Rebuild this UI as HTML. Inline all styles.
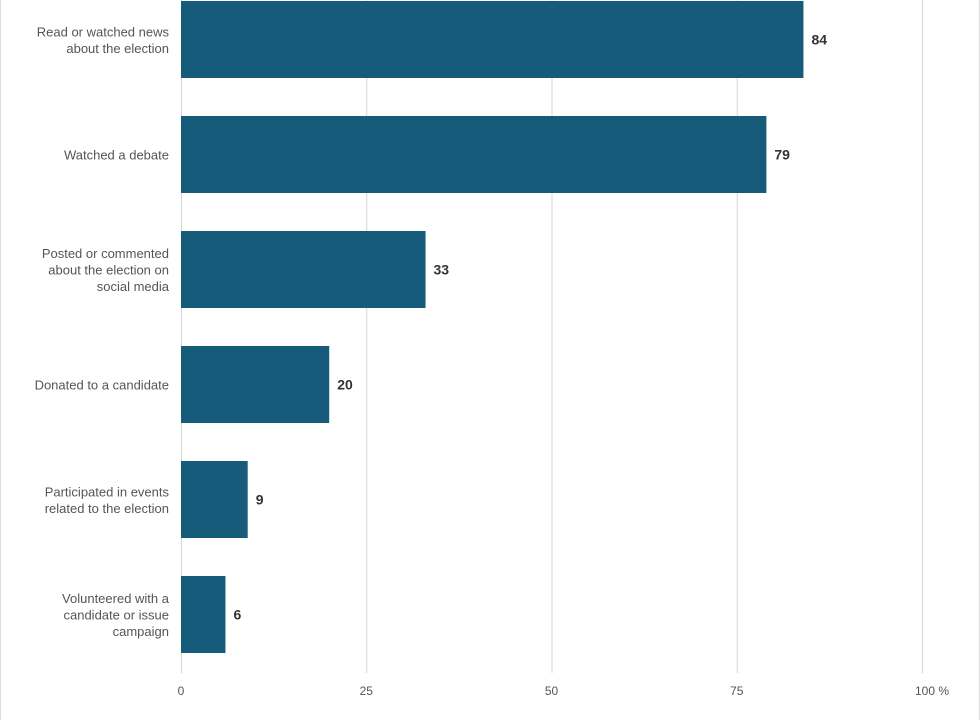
<!DOCTYPE html>
<html><head><meta charset="utf-8"><style>
body{margin:0;background:#fff;}
svg{display:block;font-family:"Liberation Sans",sans-serif;}
</style></head><body>
<svg id="c" width="980" height="720">
<line x1="0.5" y1="0" x2="0.5" y2="720" stroke="#ddd"/>
<line x1="979.5" y1="0" x2="979.5" y2="720" stroke="#ddd"/>
<g id="grid"></g><g id="bars"></g><g id="labels"></g>
</svg>
<script>
const categories=[["Read or watched news","about the election"],["Watched a debate"],["Posted or commented","about the election on","social media"],["Donated to a candidate"],["Participated in events","related to the election"],["Volunteered with a","candidate or issue","campaign"]];
const values=[84,79,33,20,9,6];
const ticks=[0,25,50,75,100];
const tickLabels=["0","25","50","75","100 %"];
const NS="http://www.w3.org/2000/svg";
const x=v=>181+v*7.41;
const yTop=i=>1+i*115;
const bh=77;
function mk(t,a,p){const e=document.createElementNS(NS,t);for(const k in a)e.setAttribute(k,a[k]);p.appendChild(e);return e;}
const grid=document.getElementById('grid'),bars=document.getElementById('bars'),labels=document.getElementById('labels');
ticks.forEach((t,i)=>{
 const l=mk('line',{x1:x(t)+0.5,x2:x(t)+0.5,y1:0,y2:673,stroke:'#d6d6d6'},grid);
 
 
 const tx=mk('text',{x:x(t)+(t==100?10:0),y:695,'text-anchor':'middle','font-size':12,fill:'#555'},grid);
 tx.textContent=tickLabels[i];
 
 
});
values.forEach((v,i)=>{
 const r=mk('rect',{x:x(0),y:yTop(i),width:x(v)-x(0),height:bh,fill:'#175b7a'},bars);
 
 
 const vt=mk('text',{x:x(v)+8,y:yTop(i)+bh/2+5,'font-size':14,'font-weight':'bold',fill:'#333'},labels);
 vt.textContent=v;
 
 
 const lines=categories[i];
 const cy=yTop(i)+bh/2;
 lines.forEach((s,j)=>{
  const t=mk('text',{x:169,y:cy+5+(j-(lines.length-1)/2)*16.5,'text-anchor':'end','font-size':13,fill:'#555'},labels);
  t.textContent=s;
  
  
 });
});
</script>
</body></html>
